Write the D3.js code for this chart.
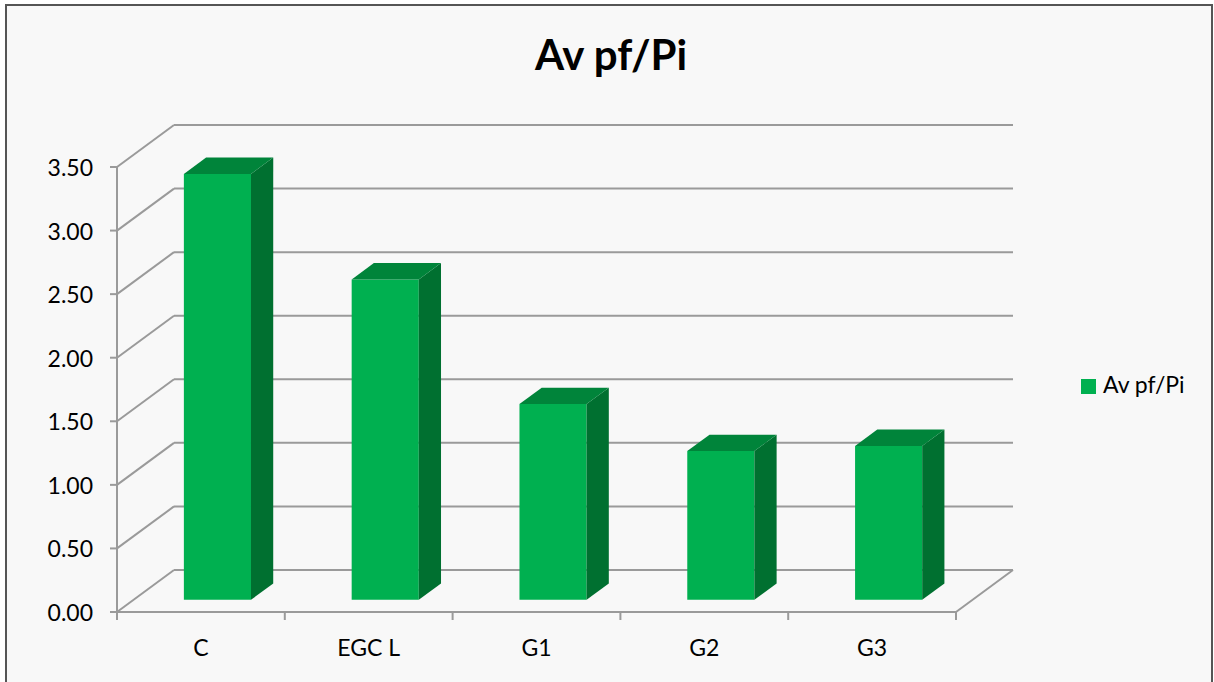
<!DOCTYPE html>
<html>
<head>
<meta charset="utf-8">
<script src="https://cdn.jsdelivr.net/npm/d3@7"></script>
<style>
  html, body { margin: 0; padding: 0; background: #fff; }
  svg { display: block; font-family: Lato, "Open Sans", sans-serif; }
</style>
</head>
<body>
<div id="chart"></div>
<script>
var categories = ['C', 'EGC L', 'G1', 'G2', 'G3']
var values = [3.35, 2.52, 1.54, 1.17, 1.21]
var yTicks = [0, 0.5, 1, 1.5, 2, 2.5, 3, 3.5]
var seriesName = 'Av pf/Pi'

var W = 1214
var H = 682
var DX = 57 // depth offset of back wall
var DY = 42
var Z0 = 0.29 // bar front depth fraction
var Z1 = 0.68 // bar back depth fraction

var colors = {
  front: '#00b050',
  side: '#007030',
  top: '#00843a',
  grid: '#9a9a9a'
}

var svg = d3.select('#chart').append('svg')
  .attr('width', W)
  .attr('height', H)

svg.append('rect')
  .attr('x', 6).attr('y', 5)
  .attr('width', 1206).attr('height', 690)
  .attr('fill', '#f8f8f8')
  .attr('stroke', '#555')
  .attr('stroke-width', 2)

var x = d3.scaleBand()
  .domain(categories)
  .range([117, 956])
  .paddingInner(0.6)
  .paddingOuter(0.3)

var xTick = d3.scalePoint()
  .domain(d3.range(categories.length + 1))
  .range([117, 956])

var y = d3.scaleLinear()
  .domain([0, 3.5])
  .range([612, 167])

function px (xv, z) { return xv + z * DX }
function py (v, z) { return y(v) - z * DY }

// back wall + left wall gridlines
var grid = svg.append('g')
  .attr('stroke', colors.grid)
  .attr('stroke-width', 2)
  .attr('fill', 'none')

grid.selectAll('.back')
  .data(yTicks)
  .enter().append('line')
  .attr('x1', px(117, 1)).attr('x2', px(956, 1))
  .attr('y1', function (d) { return py(d, 1) })
  .attr('y2', function (d) { return py(d, 1) })

grid.selectAll('.side')
  .data(yTicks)
  .enter().append('line')
  .attr('x1', px(117, 0)).attr('x2', px(117, 1))
  .attr('y1', function (d) { return py(d, 0) })
  .attr('y2', function (d) { return py(d, 1) })

// floor
grid.append('line')
  .attr('x1', px(956, 0)).attr('y1', py(0, 0))
  .attr('x2', px(956, 1)).attr('y2', py(0, 1))
grid.append('line')
  .attr('x1', 117).attr('y1', py(0, 0))
  .attr('x2', 956).attr('y2', py(0, 0))

// value axis
grid.append('line')
  .attr('x1', 117).attr('y1', y(0))
  .attr('x2', 117).attr('y2', y(3.5))
grid.selectAll('.ytick')
  .data(yTicks)
  .enter().append('line')
  .attr('x1', 110).attr('x2', 117)
  .attr('y1', function (d) { return y(d) })
  .attr('y2', function (d) { return y(d) })

svg.append('g')
  .selectAll('text')
  .data(yTicks)
  .enter().append('text')
  .attr('x', 93)
  .attr('y', function (d) { return y(d) + 9 })
  .attr('text-anchor', 'end')
  .attr('font-size', 23)
  .attr('fill', '#000')
  .text(function (d) { return d3.format('.2f')(d) })

// category axis ticks
grid.selectAll('.xtick')
  .data(xTick.domain())
  .enter().append('line')
  .attr('x1', function (d) { return xTick(d) })
  .attr('x2', function (d) { return xTick(d) })
  .attr('y1', 612).attr('y2', 620)

svg.append('g')
  .selectAll('text')
  .data(categories)
  .enter().append('text')
  .attr('x', function (d) { return x(d) + x.bandwidth() / 2 })
  .attr('y', 656)
  .attr('text-anchor', 'middle')
  .attr('font-size', 23)
  .attr('fill', '#000')
  .text(function (d) { return d })

// bars
var bars = svg.append('g')
  .selectAll('g')
  .data(categories.map(function (c, i) { return { cat: c, value: values[i] } }))
  .enter().append('g')

function pts (arr) {
  return arr.map(function (p) { return p[0] + ',' + p[1] }).join(' ')
}

bars.append('polygon')
  .attr('fill', colors.front)
  .attr('points', function (d) {
    var x0 = x(d.cat)
    var x1 = x0 + x.bandwidth()
    return pts([
      [px(x0, Z0), py(0, Z0)], [px(x1, Z0), py(0, Z0)],
      [px(x1, Z0), py(d.value, Z0)], [px(x0, Z0), py(d.value, Z0)]
    ])
  })

bars.append('polygon')
  .attr('fill', colors.side)
  .attr('points', function (d) {
    var x1 = x(d.cat) + x.bandwidth()
    return pts([
      [px(x1, Z0), py(0, Z0)], [px(x1, Z1), py(0, Z1)],
      [px(x1, Z1), py(d.value, Z1)], [px(x1, Z0), py(d.value, Z0)]
    ])
  })

bars.append('polygon')
  .attr('fill', colors.top)
  .attr('points', function (d) {
    var x0 = x(d.cat)
    var x1 = x0 + x.bandwidth()
    return pts([
      [px(x0, Z0), py(d.value, Z0)], [px(x1, Z0), py(d.value, Z0)],
      [px(x1, Z1), py(d.value, Z1)], [px(x0, Z1), py(d.value, Z1)]
    ])
  })

// title
svg.append('text')
  .attr('x', 611)
  .attr('y', 70)
  .attr('text-anchor', 'middle')
  .attr('font-size', 42)
  .attr('font-weight', 'bold')
  .attr('fill', '#000')
  .text(seriesName)

// legend
var legend = svg.append('g')
legend.append('rect')
  .attr('x', 1081).attr('y', 379)
  .attr('width', 15).attr('height', 15)
  .attr('fill', colors.front)
legend.append('text')
  .attr('x', 1103)
  .attr('y', 393)
  .attr('font-size', 23)
  .attr('fill', '#000')
  .text(seriesName)
</script>
</body>
</html>
